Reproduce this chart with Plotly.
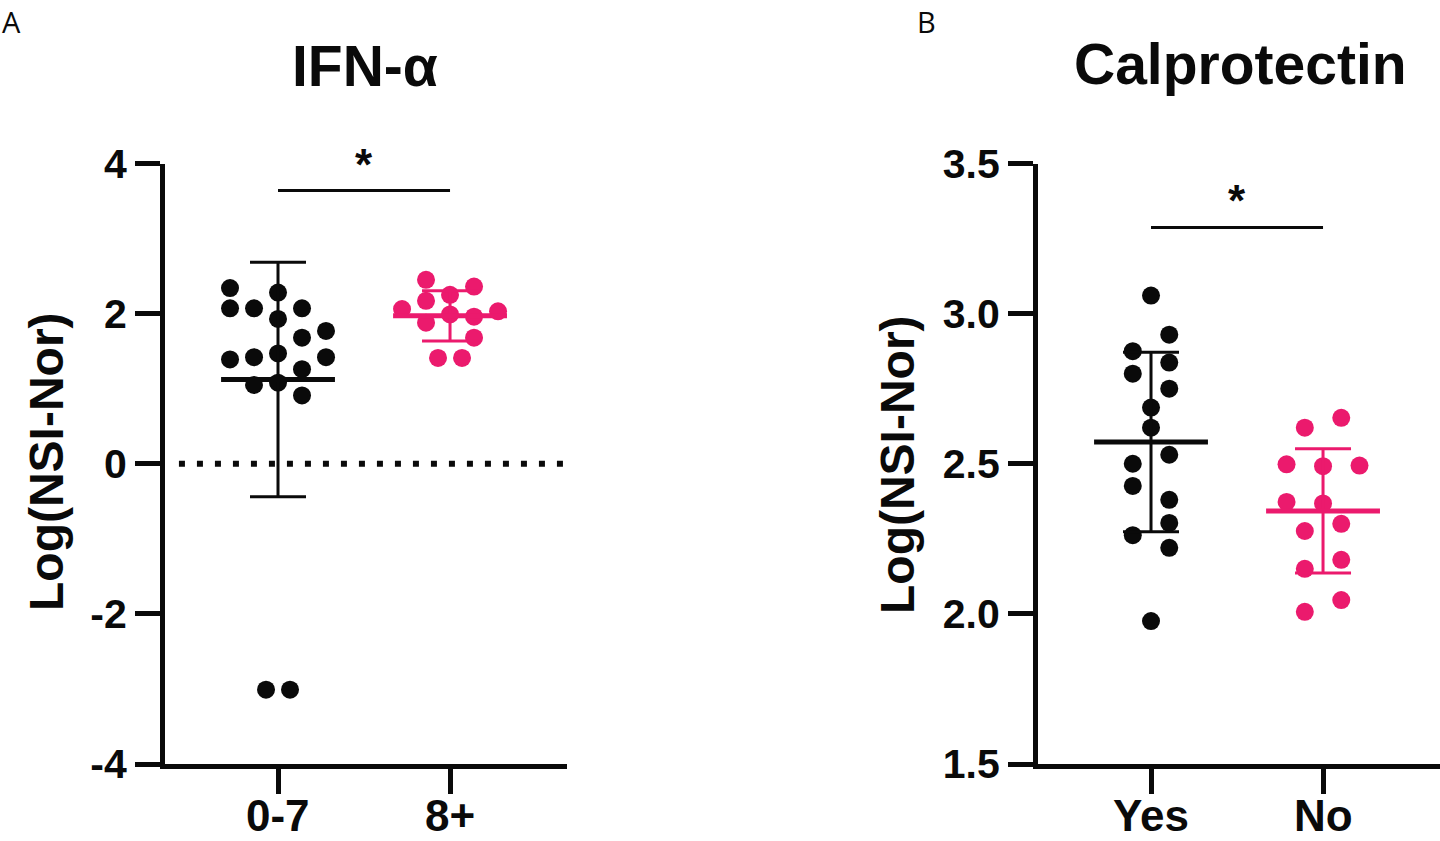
import numpy as np
import plotly.graph_objects as go

# ---------------- data ----------------
# Panel A : IFN-alpha
ifn_categories = ["0-7", "8+"]
ifn_low_values = [2.34, 2.28, 2.07, 2.07, 2.07, 1.93, 1.68, 1.77, 1.39, 1.42,
                  1.47, 1.42, 1.26, 1.05, 1.08, 0.91, -3.01, -3.01]
ifn_low_cols = [-2, 0, -2, -1, 1, 0, 1, 2, -2, -1, 0, 2, 1, -1, 0, 1, -0.5, 0.5]
ifn_high_values = [2.45, 2.36, 2.17, 2.25, 2.06, 2.03, 1.88, 1.99, 1.96, 1.68,
                   1.41, 1.41]
ifn_high_cols = [-1, 1, -1, 0, -2, 2, -1, 0, 1, 1, -0.5, 0.5]
ifn_yticks = [-4, -2, 0, 2, 4]

# Panel B : Calprotectin
cal_categories = ["Yes", "No"]
cal_yes_values = [3.06, 2.93, 2.875, 2.837, 2.80, 2.75, 2.687, 2.62, 2.53, 2.50,
                  2.426, 2.38, 2.303, 2.262, 2.22, 1.976]
cal_yes_cols = [0, 1, -1, 1, -1, 1, 0, 0, 1, -1, -1, 1, 1, -1, 1, 0]
cal_no_values = [2.653, 2.62, 2.498, 2.492, 2.494, 2.373, 2.368, 2.30, 2.276,
                 2.18, 2.15, 2.046, 2.007]
cal_no_cols = [1, -1, -2, 0, 2, -2, 0, 1, -1, 1, -1, 1, -1]
cal_yticks = [1.5, 2.0, 2.5, 3.0, 3.5]

titles = ["IFN-α", "Calprotectin"]
y_title = "Log(NSI-Nor)"
sig_label = "*"

# ---------------- styles ----------------
BLACK = "#0a0a0a"
PINK = "#EB1A6D"
FONT = "Liberation Sans, Arial, sans-serif"
W, H = 1440, 841
X_RANGE = [-0.657, 1.680]
Y_DOM = [1 - 764 / H, 1 - 163.5 / H]
MEAN_HALF = 0.331
DOT = 18

fig = go.Figure()


def add_group(xa, ya, cat_index, values, cols, spacing, color):
    vals = np.array(values, dtype=float)
    xs = cat_index + np.array(cols, dtype=float) * spacing
    fig.add_trace(go.Scatter(
        x=xs, y=vals, mode="markers", xaxis=xa, yaxis=ya, showlegend=False,
        marker=dict(size=DOT, color=color, line=dict(width=0)),
        cliponaxis=False, hoverinfo="skip"))
    mean = vals.mean()
    sd = vals.std(ddof=1)
    fig.add_trace(go.Scatter(
        x=[cat_index], y=[mean], mode="markers", xaxis=xa, yaxis=ya,
        showlegend=False, marker=dict(size=1, color="rgba(0,0,0,0)"),
        error_y=dict(type="data", array=[sd], visible=True, width=28,
                     thickness=3, color=color), hoverinfo="skip"))
    fig.add_trace(go.Scatter(
        x=[cat_index - MEAN_HALF, cat_index + MEAN_HALF], y=[mean, mean],
        mode="lines", xaxis=xa, yaxis=ya, showlegend=False,
        line=dict(color=color, width=5), hoverinfo="skip"))


add_group("x", "y", 0, ifn_low_values, ifn_low_cols, 0.1395, BLACK)
add_group("x", "y", 1, ifn_high_values, ifn_high_cols, 0.1395, PINK)
add_group("x2", "y2", 0, cal_yes_values, cal_yes_cols, 0.106, BLACK)
add_group("x2", "y2", 1, cal_no_values, cal_no_cols, 0.106, PINK)

axis_common = dict(showgrid=False, zeroline=False, showline=True,
                   linecolor=BLACK, linewidth=5, ticks="outside",
                   ticklen=25, tickwidth=5, tickcolor=BLACK, fixedrange=True,
                   automargin=False)

fig.update_layout(
    template="none",
    width=W, height=H, autosize=False, margin=dict(l=0, r=0, t=0, b=0, pad=0),
    paper_bgcolor="white", plot_bgcolor="white", showlegend=False,
    font=dict(family=FONT, color=BLACK),
    xaxis=dict(domain=[165 / W, 567 / W], range=X_RANGE, anchor="y",
               tickvals=[0, 1], showticklabels=False, **axis_common),
    yaxis=dict(domain=Y_DOM, range=[-4, 4], anchor="x", tickvals=ifn_yticks,
               ticktext=[str(v) for v in ifn_yticks],
               tickfont=dict(size=41, family=FONT, weight="bold", color=BLACK),
               **axis_common),
    xaxis2=dict(domain=[1038 / W, 1.0], range=X_RANGE, anchor="y2",
                tickvals=[0, 1], showticklabels=False, **axis_common),
    yaxis2=dict(domain=Y_DOM, range=[1.5, 3.5], anchor="x2",
                tickvals=cal_yticks, ticktext=[f"{v:.1f}" for v in cal_yticks],
                tickfont=dict(size=41, family=FONT, weight="bold", color=BLACK),
                **axis_common),
)

# category labels (placed as annotations so they sit inside the page)
for xa, cats in [("x", ifn_categories), ("x2", cal_categories)]:
    for i, c in enumerate(cats):
        fig.add_annotation(x=i, y=0, xref=xa, yref="paper", text=c,
                           showarrow=False, xanchor="center", yanchor="bottom",
                           yshift=-1,
                           font=dict(size=44, family=FONT, weight="bold",
                                     color=BLACK))

# dotted reference line at 0 (panel A)
fig.add_shape(type="line", xref="x", yref="y", x0=-0.576, x1=X_RANGE[1],
              y0=0, y1=0, line=dict(color=BLACK, width=6, dash="6px,12px"))

# significance bars
SIG_A, SIG_B = 3.64, 3.287
fig.add_shape(type="line", xref="x", yref="y", x0=0, x1=1, y0=SIG_A, y1=SIG_A,
              line=dict(color=BLACK, width=3))
fig.add_shape(type="line", xref="x2", yref="y2", x0=0, x1=1, y0=SIG_B, y1=SIG_B,
              line=dict(color=BLACK, width=3))
fig.add_annotation(x=0.5, y=SIG_A, xref="x", yref="y", text=sig_label,
                   showarrow=False, yanchor="bottom", yshift=0,
                   font=dict(size=44, family=FONT, weight="bold", color=BLACK))
fig.add_annotation(x=0.5, y=SIG_B, xref="x2", yref="y2", text=sig_label,
                   showarrow=False, yanchor="bottom", yshift=0,
                   font=dict(size=44, family=FONT, weight="bold", color=BLACK))

# titles
fig.add_annotation(x=365 / W, y=1 - 66 / H, xref="paper", yref="paper",
                   text=titles[0], showarrow=False, xanchor="center",
                   yanchor="middle",
                   font=dict(size=57, family=FONT, weight="bold", color=BLACK))
fig.add_annotation(x=1240 / W, y=1 - 64 / H, xref="paper", yref="paper",
                   text=titles[1], showarrow=False, xanchor="center",
                   yanchor="middle",
                   font=dict(size=57, family=FONT, weight="bold", color=BLACK))

# y-axis titles
for xc, yc in [(46, 462), (897, 465)]:
    fig.add_annotation(x=xc / W, y=1 - yc / H, xref="paper", yref="paper",
                       text=y_title, showarrow=False, textangle=-90,
                       xanchor="center", yanchor="middle",
                       font=dict(size=48, family=FONT, weight="bold",
                                 color=BLACK))

# panel letters
for txt, xp in [("A", 0), ("B", 915)]:
    fig.add_annotation(x=xp / W, y=1.0, xref="paper", yref="paper", text=txt,
                       showarrow=False, xanchor="left", yanchor="top",
                       font=dict(size=29, family="Open Sans, sans-serif",
                                 color=BLACK))

fig.write_html("out.html", config={"displayModeBar": False})
with open("out.html", "r", encoding="utf-8") as f:
    html = f.read()
html = html.replace("<body>", '<body style="margin:0;overflow:hidden">', 1)
with open("out.html", "w", encoding="utf-8") as f:
    f.write(html)
